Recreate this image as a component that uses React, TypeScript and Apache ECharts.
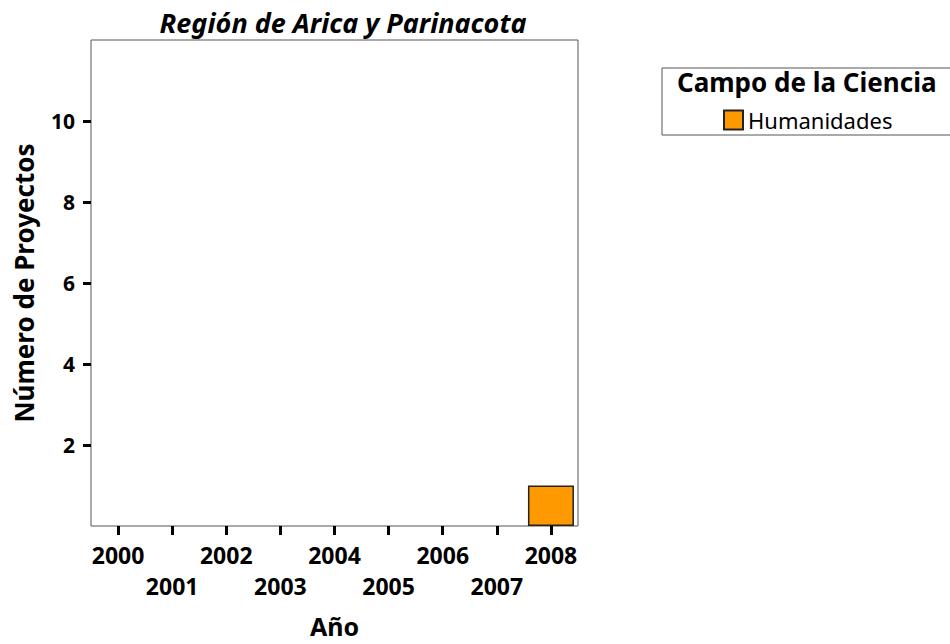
import React, { useEffect, useRef } from "react";
import * as echarts from "echarts";

const years = ["2000", "2001", "2002", "2003", "2004", "2005", "2006", "2007", "2008"];
const humanidades = [0, 0, 0, 0, 0, 0, 0, 0, 1];
const yTicks = [2, 4, 6, 8, 10];
const seriesName = "Humanidades";
const legendTitle = "Campo de la Ciencia";
const chartTitle = "Región de Arica y Parinacota";

export default function App() {
  const ref = useRef<HTMLDivElement>(null);
  useEffect(() => {
    if (!ref.current) return;
    const chart = echarts.init(ref.current, null, { renderer: "svg" });
    const font = "Noto Sans";
    chart.setOption({
      animation: false,
      backgroundColor: "#fff",
      textStyle: { fontFamily: font },
      title: {
        text: chartTitle,
        left: 338,
        textAlign: "center",
        top: 4,
        textStyle: { fontSize: 27, fontWeight: "bold", fontStyle: "italic", color: "#000", fontFamily: font },
      },
      grid: {
        left: 91,
        top: 40,
        width: 487,
        height: 486,
        show: true,
        borderColor: "#555",
        borderWidth: 1,
        backgroundColor: "transparent",
      },
      legend: {
        left: 718,
        top: 104,
        itemWidth: 19,
        itemHeight: 19,
        itemGap: 4,
        icon: "rect",
        data: [seriesName],
        textStyle: { fontSize: 22, color: "#000", fontFamily: font, padding: [0, 0, 0, 0] },
      },
      graphic: [
        {
          type: "rect",
          shape: { x: 662, y: 68, width: 300, height: 67 },
          style: { fill: "none", stroke: "#555", lineWidth: 1 },
        },
        {
          type: "text",
          x: 677,
          y: 82,
          style: {
            text: legendTitle,
            fontSize: 26,
            fontWeight: "bold",
            fill: "#000",
            fontFamily: font,
            verticalAlign: "middle",
          },
        },
      ],
      xAxis: {
        type: "category",
        data: years,
        name: "Año",
        nameLocation: "middle",
        nameGap: 87,
        nameTextStyle: { fontSize: 25, fontWeight: "bold", color: "#000", fontFamily: font },
        axisLine: { show: false },
        axisTick: { show: true, alignWithLabel: true, length: 9, lineStyle: { color: "#000", width: 3 } },
        axisLabel: {
          interval: 0,
          margin: 13,
          fontSize: 23,
          fontWeight: "bold",
          color: "#000",
          lineHeight: 31,
          fontFamily: font,
          formatter: (v: string, i: number) => (i % 2 === 1 ? "\n" + v : v + "\n"),
        },
      },
      yAxis: {
        type: "value",
        min: 0,
        max: 12,
        interval: 2,
        name: "Número de Proyectos",
        nameLocation: "middle",
        nameGap: 54,
        nameTextStyle: { fontSize: 26, fontWeight: "bold", color: "#000", fontFamily: font },
        splitLine: { show: false },
        axisLine: { show: false },
        axisTick: { show: true, length: 8, customValues: yTicks, lineStyle: { color: "#000", width: 3 } },
        axisLabel: {
          margin: 16,
          fontSize: 21,
          fontWeight: "bold",
          color: "#000",
          fontFamily: font,
          customValues: yTicks,
        },
      },
      series: [
        {
          name: seriesName,
          type: "bar",
          data: humanidades.map((v) => (v === 0 ? { value: v, itemStyle: { borderWidth: 0 } } : v)),
          barWidth: "85%",
          itemStyle: { color: "#FF9900", borderColor: "#222", borderWidth: 1.5 },
        },
      ],
    });
    return () => chart.dispose();
  }, []);
  return <div ref={ref} style={{ width: 950, height: 644, position: "absolute", left: 0, top: 0 }} />;
}
